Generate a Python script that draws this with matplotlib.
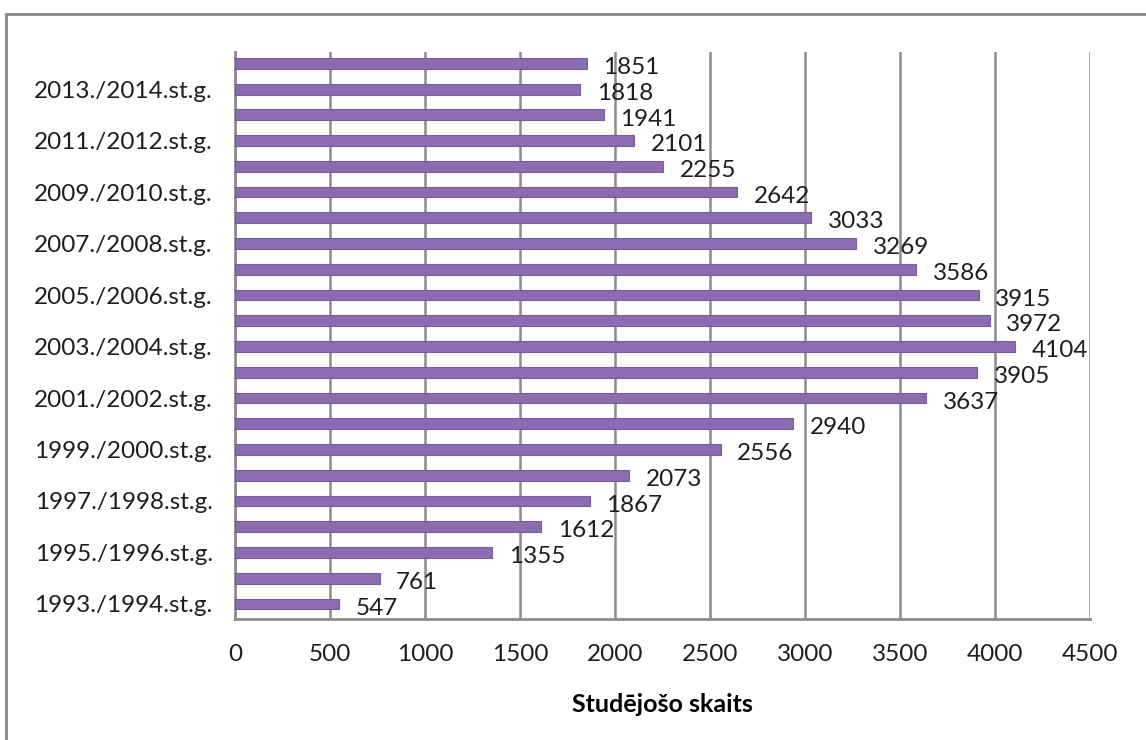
import matplotlib.pyplot as plt
from matplotlib.patches import Rectangle

# Data (bottom to top)
years = ["1993./1994.st.g.", "1994./1995.st.g.", "1995./1996.st.g.", "1996./1997.st.g.",
         "1997./1998.st.g.", "1998./1999.st.g.", "1999./2000.st.g.", "2000./2001.st.g.",
         "2001./2002.st.g.", "2002./2003.st.g.", "2003./2004.st.g.", "2004./2005.st.g.",
         "2005./2006.st.g.", "2006./2007.st.g.", "2007./2008.st.g.", "2008./2009.st.g.",
         "2009./2010.st.g.", "2010./2011.st.g.", "2011./2012.st.g.", "2012./2013.st.g.",
         "2013./2014.st.g.", "2014./2015.st.g."]
students = [547, 761, 1355, 1612, 1867, 2073, 2556, 2940, 3637, 3905, 4104,
            3972, 3915, 3586, 3269, 3033, 2642, 2255, 2101, 1941, 1818, 1851]
xticks = [0, 500, 1000, 1500, 2000, 2500, 3000, 3500, 4000, 4500]

plt.rcParams['font.family'] = ['Lato', 'DejaVu Sans']

fig = plt.figure(figsize=(11.46, 7.4), dpi=100)
ax = fig.add_axes([0.205, 0.163, 0.746, 0.767])

# outer chart border
fig.patches.append(Rectangle((6 / 1146, -0.05), 1.1, 1 - 14 / 740 + 0.05,
                             transform=fig.transFigure, fill=False,
                             edgecolor='#868686', linewidth=2))

pos = list(range(len(years)))
ax.barh(pos, students, height=0.42, color='#8B6CB1', edgecolor='#7A5C9E',
        linewidth=0.8, zorder=3)

for y, v in zip(pos, students):
    ax.annotate(str(v), (v, y), xytext=(12, -3), textcoords='offset points',
                ha='left', va='center', fontsize=17.5, color='#1E1E1E', zorder=4)

ax.set_xlim(0, 4500)
ax.set_ylim(-0.6, 21.45)
ax.set_xticks(xticks)
ax.set_xticklabels([str(t) for t in xticks], fontsize=17.5, color='#1E1E1E')
ax.set_yticks(pos[::2])
ax.set_yticklabels(years[::2], fontsize=17.5, color='#1E1E1E')
ax.tick_params(length=0)
ax.tick_params(axis='y', pad=16)
ax.tick_params(axis='x', pad=18)

ax.grid(axis='x', color='#8C8C8C', linewidth=1.8, zorder=0)
for side in ['top', 'right']:
    ax.spines[side].set_visible(False)
for side in ['left', 'bottom']:
    ax.spines[side].set_color('#8C8C8C')
    ax.spines[side].set_linewidth(2)

ax.set_xlabel("Studējošo skaits", fontsize=18, fontweight='bold', labelpad=20)

plt.savefig("out.png", dpi=100)
